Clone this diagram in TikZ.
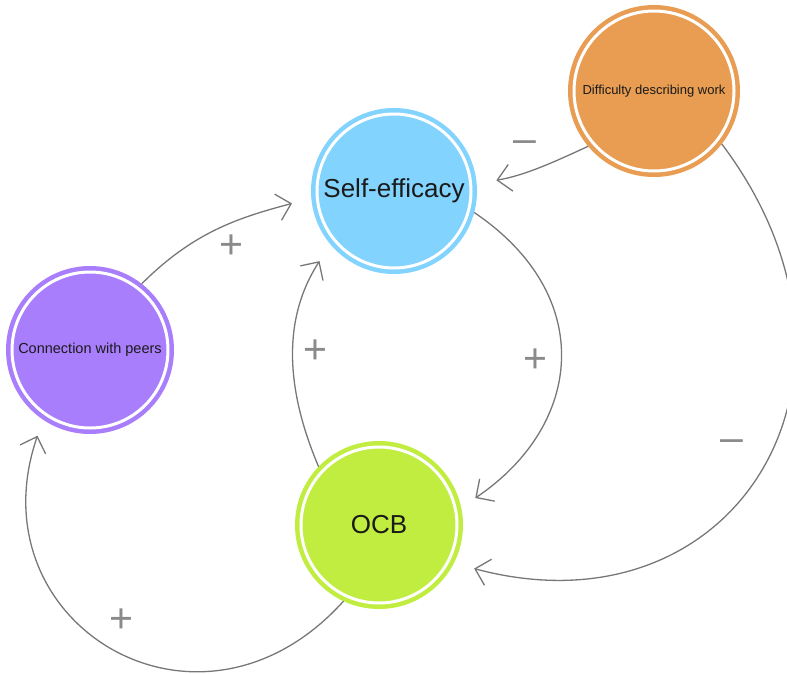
\documentclass[tikz,border=0pt]{standalone}
\usepackage{fontspec}
\setmainfont{Liberation Sans}
\usetikzlibrary{arrows.meta}
\definecolor{cse}{HTML}{82D3FE}
\definecolor{cdiff}{HTML}{E89D52}
\definecolor{cconn}{HTML}{A87EFC}
\definecolor{cocb}{HTML}{C0ED40}
\definecolor{txt}{HTML}{1A1A1A}
\definecolor{lk}{HTML}{777777}
\definecolor{sg}{HTML}{8A8A8A}
\begin{document}
\begin{tikzpicture}[x=1pt,y=1pt,
  ball/.style={circle, draw=#1, fill=#1, double=white, double distance=3pt,
    line width=4.5pt, outer sep=6pt, inner sep=0pt, text=txt, align=center},
  link/.style={draw=lk, line width=1.3pt,
    -{Straight Barb[length=13.5pt,width=27pt,line width=1.3pt]}},
  sign/.style={text=sg, font=\fontsize{41}{41}\selectfont, inner sep=0pt}]
\useasboundingbox (0,0) rectangle (787,-673);

\node[ball=cse, minimum size=154pt, font=\fontsize{26}{30}\selectfont] (se) at (394,-191) {Self-efficacy};
\node[ball=cdiff, minimum size=160pt, font=\fontsize{13}{15}\selectfont] (diff) at (654,-91) {Difficulty describing work};
\node[ball=cconn, minimum size=156pt, font=\fontsize{14.5}{16}\selectfont] (conn) at (90,-350) {Connection with peers};
\node[ball=cocb, minimum size=156pt, font=\fontsize{26}{30}\selectfont] (ocb) at (379,-525) {OCB};

\draw[link, shorten >=20pt] (conn.52) to[out=45, in=195] (se.185);
\draw[link, shorten >=20pt] (diff.220) to[out=205, in=10] (se.5);
\draw[link, shorten >=17pt] (se.-15) to[out=-34, in=34, looseness=1.28] (ocb.12);
\draw[link, shorten >=20pt] (ocb.136) to[out=113, in=237] (se.220);
\draw[link, shorten >=21pt] (diff.-38) to[out=-53, in=-15, looseness=1.5] (ocb.-27);
\draw[link, shorten >=17pt] (ocb.245) to[out=228, in=251, looseness=1.57] (conn.236);

\node[sign] (s1) at (231,-247) {+};
\node[sign] (s2) at (525,-147) {–};
\node[sign] (s3) at (535,-361) {+};
\node[sign] (s4) at (315,-352) {+};
\node[sign] (s5) at (732,-446) {–};
\node[sign] (s6) at (121,-621) {+};
\end{tikzpicture}
\end{document}
